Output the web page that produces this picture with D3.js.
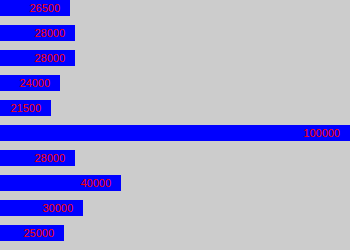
<!DOCTYPE html>
<html><head><meta charset="utf-8">
<script src="https://cdn.jsdelivr.net/npm/d3@7"></script>
<style>html,body{margin:0;padding:0;background:#ccc;}svg{display:block;}</style>
</head><body>
<svg id="c" width="350" height="250"></svg>
<script>
const categories = ["a","b","c","d","e","f","g","h","i","j"];
const values = [26500, 28000, 28000, 24000, 21500, 100000, 28000, 40000, 30000, 25000];
const labels = ["26500","28000","28000","24000","21500","100000","28000","40000","30000","25000"];

const W = 350, H = 250;
const svg = d3.select("#c");
svg.append("rect").attr("width", W).attr("height", H).attr("fill", "#cccccc");
const x = d3.scaleLinear().domain([8100, 100000]).range([0, W]);
const yb = d3.scaleBand().domain(categories).range([0, H]).paddingInner(0.36).paddingOuter(0.18).align(0);

svg.selectAll("rect.bar").data(values).join("rect")
  .attr("class", "bar")
  .attr("x", 0)
  .attr("y", (d, i) => yb(categories[i]))
  .attr("width", d => Math.floor(x(d)))
  .attr("height", yb.bandwidth())
  .attr("fill", "#0000ff");

svg.selectAll("text.lbl").data(values).join("text")
  .attr("class", "lbl")
  .attr("x", d => Math.min(Math.floor(x(d)) - 10, W - 3))
  .attr("y", (d, i) => yb(categories[i]) + 12)
  .attr("text-anchor", "end")
  .attr("fill", "#ff0000")
  .attr("font-family", "'Liberation Sans', Arial, sans-serif")
  .attr("font-size", 11)
  .text((d, i) => labels[i]);
</script>
</body></html>
